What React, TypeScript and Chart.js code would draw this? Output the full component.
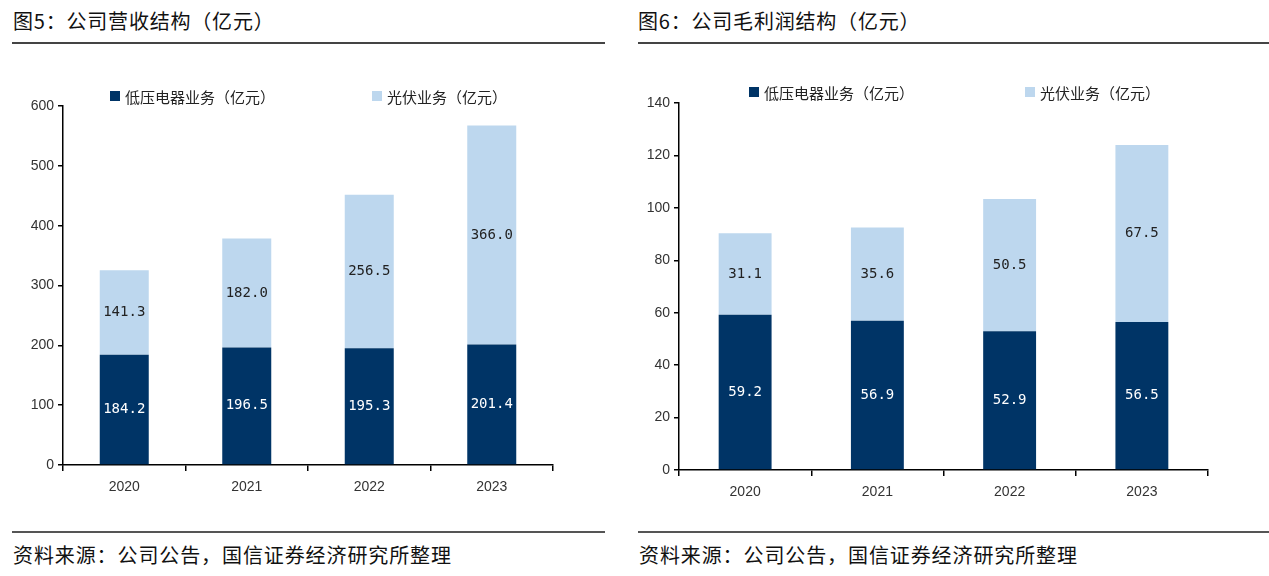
import React, { useEffect, useRef } from 'react';
import { Chart, registerables } from 'chart.js';

Chart.register(...registerables);

// ---------- data ----------
const years = ['2020', '2021', '2022', '2023'];
const seriesNames = ['低压电器业务（亿元）', '光伏业务（亿元）'];
const revenueLowVoltage = [184.2, 196.5, 195.3, 201.4];
const revenuePV = [141.3, 182.0, 256.5, 366.0];
const profitLowVoltage = [59.2, 56.9, 52.9, 56.5];
const profitPV = [31.1, 35.6, 50.5, 67.5];
const revenueAxis = { max: 600, step: 100 };
const profitAxis = { max: 140, step: 20 };

const DARK = '#003466';
const LIGHT = '#BDD7EE';
const CJK = '"Noto Sans CJK SC", "Noto Sans", sans-serif';
const LATIN = '"Liberation Sans", Arial, sans-serif';

const labelPlugin = {
  id: 'barValueLabels',
  afterDatasetsDraw(chart: any) {
    const ctx = chart.ctx;
    const colors = ['#ffffff', '#222222'];
    chart.data.datasets.forEach((ds: any, di: number) => {
      const meta = chart.getDatasetMeta(di);
      meta.data.forEach((el: any, i: number) => {
        const p = el.getProps(['x', 'y', 'base'], true);
        const v = ds.data[i];
        ctx.save();
        ctx.font = '14px "DejaVu Sans Mono", monospace';
        ctx.fillStyle = colors[di];
        ctx.textAlign = 'center';
        ctx.textBaseline = 'middle';
        ctx.fillText(Number(v).toFixed(1), p.x, (p.y + p.base) / 2);
        ctx.restore();
      });
    });
  },
};

const legendPlugin = {
  id: 'placedLegend',
  afterDraw(chart: any, _args: any, opts: any) {
    const ctx = chart.ctx;
    const area = chart.chartArea;
    const cy = area.top + opts.dy;
    chart.data.datasets.forEach((ds: any, di: number) => {
      const x = area.left + opts.xs[di];
      ctx.save();
      ctx.fillStyle = ds.backgroundColor;
      ctx.fillRect(x, cy - 5, 10, 10);
      ctx.font = '15px ' + CJK;
      ctx.fillStyle = '#222222';
      ctx.textAlign = 'left';
      ctx.textBaseline = 'middle';
      ctx.fillText(ds.label, x + 15, cy + 1);
      ctx.restore();
    });
  },
};

type Props = {
  low: number[];
  pv: number[];
  axis: { max: number; step: number };
  yAxisWidth: number;
  padRight: number;
  padTop: number;
  xAxisHeight: number;
  legendXs: number[];
  legendDy: number;
  style: React.CSSProperties;
};

function StackedChart(props: Props) {
  const ref = useRef<HTMLCanvasElement>(null);
  useEffect(() => {
    if (!ref.current) return;
    const chart = new Chart(ref.current, {
      type: 'bar',
      data: {
        labels: years,
        datasets: [
          { label: seriesNames[0], data: props.low, backgroundColor: DARK, barPercentage: 0.4, categoryPercentage: 1 },
          { label: seriesNames[1], data: props.pv, backgroundColor: LIGHT, barPercentage: 0.4, categoryPercentage: 1 },
        ],
      },
      options: {
        animation: false,
        responsive: true,
        maintainAspectRatio: false,
        layout: { padding: { left: 0, right: props.padRight, top: props.padTop, bottom: 0 } },
        plugins: {
          legend: { display: false },
          tooltip: { enabled: false },
          placedLegend: { xs: props.legendXs, dy: props.legendDy },
        } as any,
        scales: {
          x: {
            stacked: true,
            grid: { display: true, drawOnChartArea: false, drawTicks: true, tickLength: 6, color: '#000', lineWidth: 1.5 },
            border: { display: true, color: '#000', width: 1.5 },
            ticks: { color: '#333', font: { family: LATIN, size: 14 }, padding: 8, maxRotation: 0 },
            afterFit: (s: any) => { s.height = props.xAxisHeight; },
          },
          y: {
            stacked: true,
            min: 0,
            max: props.axis.max,
            grid: { display: true, drawOnChartArea: false, drawTicks: true, tickLength: 5, color: '#000', lineWidth: 1.5 },
            border: { display: true, color: '#000', width: 1.5 },
            ticks: { stepSize: props.axis.step, color: '#333', font: { family: LATIN, size: 14 }, padding: 4 },
            afterFit: (s: any) => { s.width = props.yAxisWidth; },
          },
        },
      },
      plugins: [labelPlugin, legendPlugin],
    });
    return () => chart.destroy();
  }, []);
  return (
    <div style={{ position: 'absolute', ...props.style }}>
      <canvas ref={ref} />
    </div>
  );
}

const titleStyle: React.CSSProperties = {
  position: 'absolute',
  fontFamily: CJK,
  fontSize: 20,
  lineHeight: '20px',
  color: '#111',
  whiteSpace: 'nowrap',
};

export default function App() {
  return (
    <div style={{ position: 'absolute', left: 0, top: 0, width: 1269, height: 576, background: '#fff', overflow: 'hidden' }}>
      <div style={{ ...titleStyle, left: 13, top: 11, letterSpacing: 0.8 }}>图5：公司营收结构（亿元）</div>
      <div style={{ position: 'absolute', left: 12, top: 42, width: 593, height: 2, background: '#444' }} />
      <StackedChart
        low={revenueLowVoltage}
        pv={revenuePV}
        axis={revenueAxis}
        yAxisWidth={51}
        padRight={52}
        padTop={46}
        xAxisHeight={50}
        legendXs={[47, 309]}
        legendDy={-10}
        style={{ left: 12, top: 60, width: 593, height: 455 }}
      />
      <div style={{ position: 'absolute', left: 12, top: 531, width: 593, height: 2, background: '#555' }} />
      <div style={{ ...titleStyle, left: 13, top: 545, letterSpacing: 0.9 }}>资料来源：公司公告，国信证券经济研究所整理</div>

      <div style={{ ...titleStyle, left: 638, top: 11, letterSpacing: 0.8 }}>图6：公司毛利润结构（亿元）</div>
      <div style={{ position: 'absolute', left: 638, top: 42, width: 631, height: 2, background: '#444' }} />
      <StackedChart
        low={profitLowVoltage}
        pv={profitPV}
        axis={profitAxis}
        yAxisWidth={41}
        padRight={61}
        padTop={43}
        xAxisHeight={45}
        legendXs={[70, 346]}
        legendDy={-11}
        style={{ left: 638, top: 60, width: 631, height: 455 }}
      />
      <div style={{ position: 'absolute', left: 638, top: 531, width: 631, height: 2, background: '#555' }} />
      <div style={{ ...titleStyle, left: 639, top: 545, letterSpacing: 0.9 }}>资料来源：公司公告，国信证券经济研究所整理</div>
    </div>
  );
}
